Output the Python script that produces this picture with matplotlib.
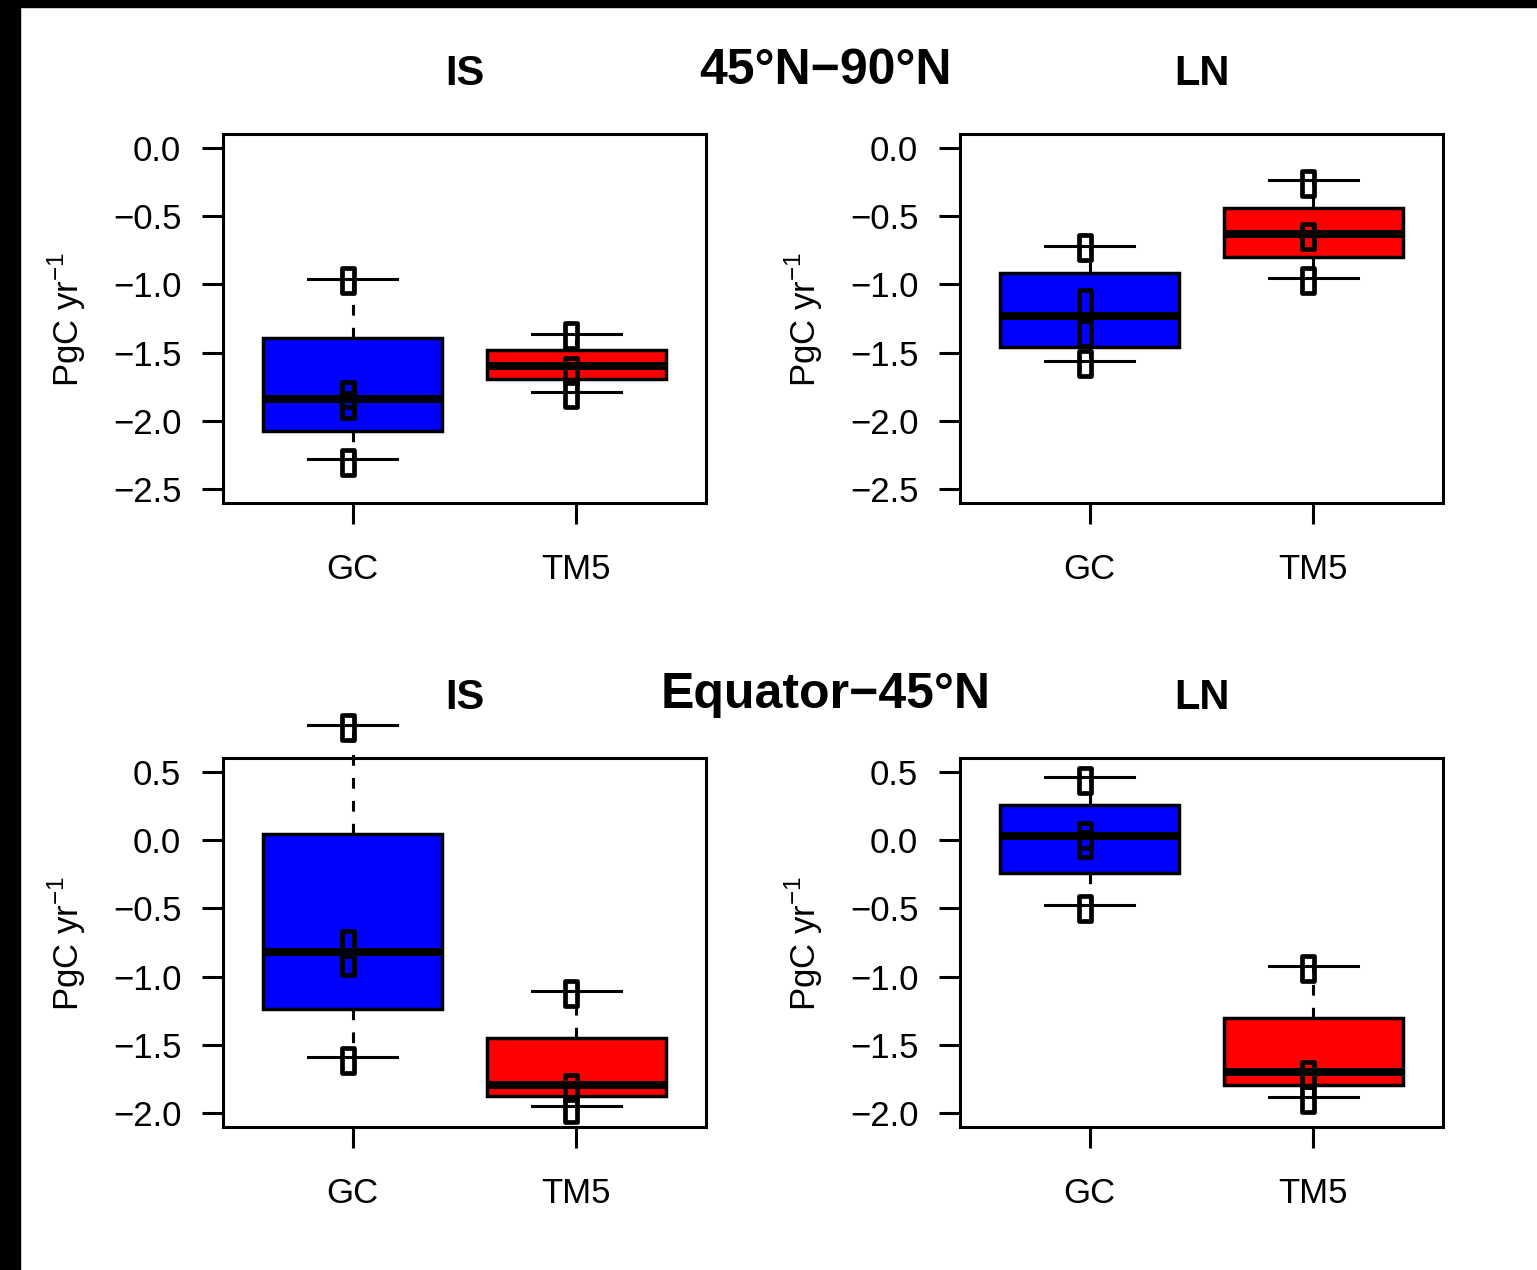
import matplotlib
matplotlib.use("Agg")
import matplotlib.pyplot as plt
from matplotlib.path import Path
from matplotlib.patches import Rectangle

plt.rcParams['font.family'] = ['Liberation Sans', 'DejaVu Sans']

# box statistics: (whislo, q1, med, q3, whishi)
models = ["GC", "TM5"]
box_colors = ["#0000ff", "#ff0000"]

stats_high_IS = [(-2.28, -2.07, -1.84, -1.39, -0.96), (-1.79, -1.69, -1.60, -1.48, -1.36)]
stats_high_LN = [(-1.56, -1.46, -1.23, -0.92, -0.72), (-0.955, -0.80, -0.63, -0.44, -0.24)]
stats_low_IS = [(-1.588, -1.237, -0.816, 0.047, 0.84), (-1.947, -1.87, -1.795, -1.452, -1.108)]
stats_low_LN = [(-0.472, -0.238, 0.032, 0.259, 0.458), (-1.88, -1.795, -1.698, -1.305, -0.925)]

# individual values drawn as open markers
pts_high_IS = [[-0.97, -1.80, -1.88, -2.30], [-1.37, -1.63, -1.80]]
pts_high_LN = [[-0.73, -1.13, -1.355, -1.575], [-0.255, -0.65, -0.97]]
pts_low_IS = [[0.824, -0.757, -0.896, -1.61], [-1.12, -1.81, -1.97]]
pts_low_LN = [[0.44, 0.04, -0.026, -0.498], [-0.94, -1.715, -1.898]]

yticks_high = [0.0, -0.5, -1.0, -1.5, -2.0, -2.5]
yticks_low = [0.5, 0.0, -0.5, -1.0, -1.5, -2.0]

W, H = 1537, 1270
fig = plt.figure(figsize=(W / 100, H / 100), dpi=100)
fig.patch.set_facecolor("white")

# black strips at the top and left edge
fig.patches.append(Rectangle((0, 1 - 7 / H), 1, 7 / H, transform=fig.transFigure,
                             color="black", zorder=0))
fig.patches.append(Rectangle((0, 0), 20 / W, 1, transform=fig.transFigure,
                             color="black", zorder=0))

rect_marker = Path([(-0.5, -1), (0.5, -1), (0.5, 1), (-0.5, 1), (-0.5, -1)],
                   [Path.MOVETO, Path.LINETO, Path.LINETO, Path.LINETO, Path.CLOSEPOLY])


def panel(left_px, top_px, stats, pts, yticks, ylim):
    ax = fig.add_axes([left_px / W, 1 - (top_px + 369) / H, 483 / W, 369 / H])
    bxp_stats = []
    for name, s in zip(models, stats):
        bxp_stats.append(dict(label=name, whislo=s[0], q1=s[1], med=s[2], q3=s[3],
                              whishi=s[4], fliers=[]))
    res = ax.bxp(bxp_stats, positions=[1, 2], widths=0.8, capwidths=0.4,
                 patch_artist=True, showfliers=False,
                 boxprops=dict(linewidth=2.5, edgecolor="black"),
                 medianprops=dict(linewidth=5.8, color="black", solid_capstyle="butt"),
                 whiskerprops=dict(linewidth=2.2, linestyle=(0, (3.5, 4)), color="black"),
                 capprops=dict(linewidth=2.2, color="black"))
    for patch, c in zip(res["boxes"], box_colors):
        patch.set_facecolor(c)
    for key in res:
        for art in res[key]:
            art.set_clip_on(False)
    for i, vals in enumerate(pts):
        ax.plot([i + 1 - 0.022] * len(vals), vals, linestyle="none", marker=rect_marker,
                markersize=18, markerfacecolor="none", markeredgecolor="black",
                markeredgewidth=3.4, clip_on=False, zorder=5)
    ax.set_xlim(0.42, 2.58)
    ax.set_ylim(*ylim)
    ax.set_yticks(yticks)
    ax.set_yticklabels([f"{v:.1f}".replace("-", "\u2212") for v in yticks])
    ax.set_xticks([1, 2])
    ax.set_xticklabels(models)
    ax.tick_params(axis="both", direction="out", length=15, width=2.2, labelsize=25)
    ax.tick_params(axis="y", pad=15)
    ax.tick_params(axis="x", pad=21)
    for sp in ax.spines.values():
        sp.set_linewidth(2.2)
    # y-axis label
    fig.text((left_px - 156) / W, 1 - (top_px + 185) / H, r"PgC yr$^{\mathregular{-1}}$",
             rotation=90, ha="center", va="center", fontsize=25)
    return ax


panel(223, 134, stats_high_IS, pts_high_IS, yticks_high, (-2.6, 0.1))
panel(960, 134, stats_high_LN, pts_high_LN, yticks_high, (-2.6, 0.1))
panel(223, 758, stats_low_IS, pts_low_IS, yticks_low, (-2.1, 0.6))
panel(960, 758, stats_low_LN, pts_low_LN, yticks_low, (-2.1, 0.6))

# panel titles and row titles
for base, row_title in [(85, "45°N\u221290°N"), (709, "Equator\u221245°N")]:
    fig.text(464.5 / W, 1 - base / H, "IS", ha="center", va="baseline",
             fontsize=30, fontweight="bold")
    fig.text(1201.5 / W, 1 - base / H, "LN", ha="center", va="baseline",
             fontsize=30, fontweight="bold")
    fig.text(826 / W, 1 - (base - 1) / H, row_title, ha="center", va="baseline",
             fontsize=36, fontweight="bold")

fig.savefig("out.png", dpi=100)
